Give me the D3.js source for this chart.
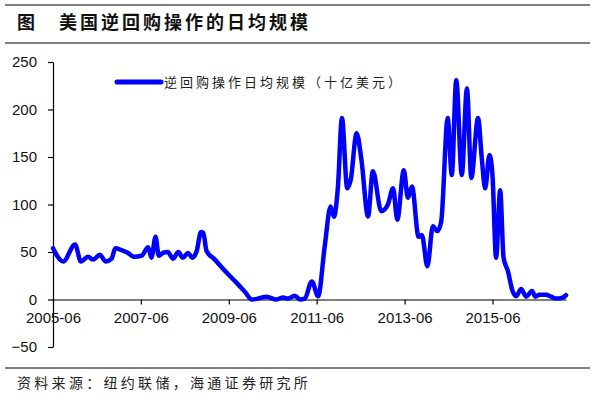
<!DOCTYPE html>
<html>
<head>
<meta charset="utf-8">
<script src="https://cdn.jsdelivr.net/npm/d3@7"></script>
<style>
  body { margin: 0; background: #fff; }
  svg { display: block; }
</style>
</head>
<body>
<div class="chart"></div>
<script>
'use strict'

// Data (billion USD, daily average).
const dates = [
    '2005-06-01','2005-08-25','2005-12-01','2006-01-19','2006-03-19','2006-05-01','2006-06-25','2006-08-13',
    '2006-10-01','2006-11-01','2006-12-22','2007-02-15','2007-04-01','2007-06-07','2007-08-01','2007-08-28',
    '2007-10-01','2007-10-28','2007-12-01','2008-01-10','2008-02-25','2008-04-07','2008-05-15','2008-06-28',
    '2008-08-01','2008-09-07','2008-10-13','2008-11-01','2008-11-28','2009-02-01','2009-05-01','2009-08-01',
    '2009-10-15','2009-12-10','2010-02-01','2010-04-10',
    '2010-07-01','2010-08-25','2010-10-07','2010-12-01','2011-01-13','2011-02-22','2011-04-22','2011-06-13',
    '2011-08-07','2011-09-25','2011-10-22','2011-11-25','2011-12-28','2012-02-10','2012-03-10','2012-04-28',
    '2012-06-07','2012-08-01','2012-09-10','2012-11-19','2013-01-13','2013-02-25','2013-04-01','2013-05-25',
    '2013-06-28','2013-08-01','2013-09-25','2013-10-22','2013-12-07','2014-01-22','2014-03-01','2014-04-01',
    '2014-05-25','2014-06-28','2014-08-04','2014-09-19','2014-11-01','2014-12-07','2015-02-01','2015-03-04',
    '2015-04-01','2015-05-07','2015-06-01','2015-07-01','2015-08-04','2015-09-01','2015-10-07','2015-11-15',
    '2015-12-15','2016-01-25','2016-03-07','2016-04-25','2016-05-22','2016-06-25','2016-08-19','2016-10-01',
    '2016-11-10','2017-01-04','2017-02-01'
];
const values = [
    54, 40, 58, 40, 45, 42, 47, 40,
    43, 54, 52, 49, 45, 46, 55, 44,
    66, 46, 49, 50, 43, 50, 44, 49,
    44, 51, 71, 70, 51, 42.5, 30, 18,
    7.7, 0, 1, 3,
    0, 2, 1, 4, 0, 1, 19, 3.5,
    56, 98, 87, 119, 191, 117, 126, 175,
    147, 87.5, 135, 93, 100, 117, 84, 136,
    107, 119, 66, 68, 35, 77, 72, 82,
    191, 131, 231, 131, 222, 128, 191, 149,
    117, 152, 131, 44, 115, 44, 30, 9,
    3.5, 11, 3, 9, 3, 5, 5, 3,
    1, 2, 4.5
];
const xTickLabels = ['2005-06', '2007-06', '2009-06', '2011-06', '2013-06', '2015-06'];
const yTicks = [-50, 0, 50, 100, 150, 200, 250];

const title = '图　美国逆回购操作的日均规模';
const legendLabel = '逆回购操作日均规模（十亿美元）';
const source = '资料来源：纽约联储，海通证券研究所';

const parse = d3.timeParse('%Y-%m-%d');
const parseTick = d3.timeParse('%Y-%m');
const data = dates.map((d, i) => ({date: parse(d), value: values[i]}));

// Dimensions.
let width = 595,
    height = 398,
    margin = {top: 62, right: 29, bottom: 51, left: 53};

let svg = d3.select('.chart')
    .append('svg')
        .attr('width', width)
        .attr('height', height);

// Title and rules.
svg.append('line')
    .attr('x1', 5).attr('x2', 590).attr('y1', 5).attr('y2', 5)
    .attr('stroke', '#000').attr('stroke-width', 1.2);
svg.append('text')
    .attr('x', 17)
    .attr('y', 29)
    .attr('font-family', '"Noto Sans CJK SC", sans-serif')
    .attr('font-weight', 'bold')
    .attr('font-size', 18)
    .attr('letter-spacing', 3)
    .attr('fill', '#111')
    .text(title);
svg.append('line')
    .attr('x1', 5).attr('x2', 590).attr('y1', 43).attr('y2', 43)
    .attr('stroke', '#000').attr('stroke-width', 1.2);

// Scales.
let x = d3.scaleTime()
    .domain([parse('2005-06-01'), parse('2017-02-01')])
    .range([margin.left, width - margin.right]);

let y = d3.scaleLinear()
    .domain([-50, 250])
    .range([height - margin.bottom, margin.top]);

// Y axis.
svg.append('g')
    .attr('transform', `translate(${margin.left}, 0)`)
    .call(d3.axisLeft(y).tickValues(yTicks).tickSize(5).tickSizeOuter(0).tickPadding(11))
    .call(g => g.selectAll('text')
        .attr('font-family', '"Liberation Sans", Arial, sans-serif')
        .attr('font-size', 15)
        .attr('fill', '#111'));

// X axis at zero.
svg.append('g')
    .attr('transform', `translate(0, ${y(0)})`)
    .call(d3.axisBottom(x)
        .tickValues(xTickLabels.map(parseTick))
        .tickFormat(d3.timeFormat('%Y-%m'))
        .tickSize(5).tickSizeOuter(0).tickPadding(8))
    .call(g => g.selectAll('text')
        .attr('font-family', '"Liberation Sans", Arial, sans-serif')
        .attr('font-size', 15)
        .attr('fill', '#111'));

svg.selectAll('.domain, .tick line').attr('stroke', '#000').attr('stroke-width', 1.2);

// Line.
let line = d3.line()
    .x(d => x(d.date))
    .y(d => y(d.value))
    .curve(d3.curveMonotoneX);

svg.append('path')
    .datum(data)
    .attr('fill', 'none')
    .attr('stroke', '#0000ff')
    .attr('stroke-width', 4.5)
    .attr('stroke-linejoin', 'round')
    .attr('stroke-linecap', 'round')
    .attr('d', line);

// Legend.
svg.append('line')
    .attr('x1', 117).attr('x2', 161).attr('y1', 82).attr('y2', 82)
    .attr('stroke', '#0000ff').attr('stroke-width', 5)
    .attr('stroke-linecap', 'round');
svg.append('text')
    .attr('x', 164)
    .attr('y', 87)
    .attr('font-family', '"Noto Sans CJK SC", sans-serif')
    .attr('font-size', 13)
    .attr('letter-spacing', 3)
    .attr('fill', '#222')
    .text(legendLabel);

// Source.
svg.append('line')
    .attr('x1', 5).attr('x2', 590).attr('y1', 368).attr('y2', 368)
    .attr('stroke', '#000').attr('stroke-width', 1.2);
svg.append('text')
    .attr('x', 17)
    .attr('y', 388)
    .attr('font-family', '"Noto Sans CJK SC", sans-serif')
    .attr('font-size', 14)
    .attr('letter-spacing', 3.3)
    .attr('fill', '#222')
    .text(source);
</script>
</body>
</html>
